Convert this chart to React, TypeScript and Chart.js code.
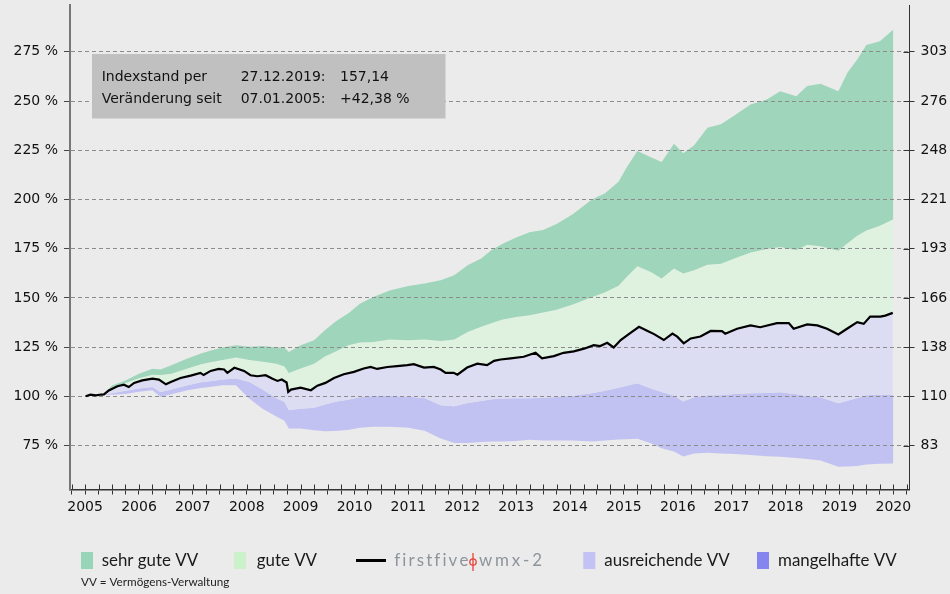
import React, { useEffect, useRef } from 'react';
import { Chart, registerables } from 'chart.js';

Chart.register(...registerables);

// ---- data ----
const lineYears = [2005.01, 2005.1, 2005.2, 2005.3, 2005.35, 2005.44, 2005.6, 2005.72, 2005.81, 2005.91, 2006.06, 2006.25, 2006.37, 2006.5, 2006.59, 2006.77, 2006.96, 2007.14, 2007.2, 2007.33, 2007.48, 2007.58, 2007.64, 2007.77, 2007.95, 2008.07, 2008.2, 2008.35, 2008.47, 2008.57, 2008.65, 2008.74, 2008.77, 2008.82, 2009.0, 2009.19, 2009.31, 2009.46, 2009.62, 2009.8, 2009.99, 2010.17, 2010.3, 2010.42, 2010.61, 2010.79, 2010.98, 2011.1, 2011.29, 2011.47, 2011.6, 2011.69, 2011.84, 2011.91, 2012.09, 2012.28, 2012.46, 2012.59, 2012.71, 2012.9, 2013.14, 2013.36, 2013.48, 2013.7, 2013.88, 2014.07, 2014.26, 2014.44, 2014.56, 2014.69, 2014.81, 2014.94, 2015.09, 2015.28, 2015.43, 2015.56, 2015.74, 2015.9, 2015.99, 2016.11, 2016.24, 2016.42, 2016.61, 2016.82, 2016.88, 2017.1, 2017.35, 2017.53, 2017.84, 2018.06, 2018.15, 2018.4, 2018.59, 2018.77, 2018.98, 2019.14, 2019.33, 2019.45, 2019.57, 2019.76, 2019.85, 2019.99];
const lineValues = [100, 100.8, 100.5, 100.9, 101, 103, 105.1, 105.9, 104.7, 106.8, 108.1, 109, 108.5, 106.1, 107.3, 109.3, 110.5, 111.9, 110.8, 112.9, 113.9, 113.6, 111.9, 114.5, 112.9, 110.7, 110.2, 110.7, 109, 107.8, 108.5, 107, 102.2, 103.4, 104.4, 103.1, 105.4, 106.8, 109.3, 111.2, 112.4, 114.1, 114.9, 113.9, 114.9, 115.3, 115.8, 116.3, 114.6, 114.9, 113.6, 111.9, 111.9, 111, 114.6, 116.6, 115.8, 118, 118.7, 119.3, 120.1, 122.1, 119.3, 120.4, 122.1, 122.8, 124.2, 126, 125.5, 127.2, 124.8, 128.6, 131.6, 135.3, 133.3, 131.6, 128.6, 131.9, 130.3, 126.9, 129.4, 130.4, 133.2, 133.1, 131.8, 134.3, 136, 135.1, 137.2, 137.2, 134.3, 136.5, 136, 134.3, 131.4, 134.3, 137.7, 136.8, 140.5, 140.5, 141, 142.4];

const bandYears = [2005.35, 2005.5, 2005.75, 2006.0, 2006.25, 2006.4, 2006.6, 2006.9, 2007.15, 2007.35, 2007.55, 2007.8, 2008.05, 2008.3, 2008.55, 2008.7, 2008.78, 2009.0, 2009.25, 2009.45, 2009.65, 2009.9, 2010.1, 2010.35, 2010.65, 2011.0, 2011.3, 2011.6, 2011.85, 2012.1, 2012.35, 2012.55, 2012.75, 2013.0, 2013.25, 2013.5, 2013.75, 2014.05, 2014.4, 2014.65, 2014.9, 2015.05, 2015.25, 2015.5, 2015.7, 2015.93, 2016.1, 2016.3, 2016.55, 2016.8, 2017.05, 2017.35, 2017.65, 2017.9, 2018.2, 2018.4, 2018.65, 2018.98, 2019.15, 2019.33, 2019.5, 2019.75, 2020.0];
const bandMax = [101.5, 105.5, 108, 111.5, 114, 113.6, 115.8, 119.2, 121.7, 123.4, 124.8, 125.9, 125.2, 125.6, 124.8, 124.8, 122.5, 125.9, 128.5, 133.6, 138, 142.5, 147, 150.5, 153.8, 156, 157.3, 159, 161.5, 166.6, 170, 174.5, 177.5, 180.7, 183.3, 184.5, 187.6, 192.5, 199.8, 203.2, 209, 216.2, 224.6, 221.4, 219, 228.3, 223.5, 227.4, 236.5, 238.2, 242.6, 248.3, 250.8, 255, 252.5, 257.6, 258.8, 255, 264.5, 271.1, 278.5, 280.4, 286.3];
const bandQ75 = [101.3, 104.3, 106.8, 109.2, 111, 110.8, 111.5, 114.1, 116.3, 117.4, 118.4, 119.7, 118.4, 117.5, 116.6, 115.2, 111.9, 114.1, 116.6, 120.2, 122.8, 126, 127.3, 127.6, 128.8, 128.5, 128.8, 128.1, 128.8, 132.7, 135.3, 137.2, 139, 140.3, 141.2, 142.6, 144, 146.6, 150.3, 152.8, 156.2, 160.6, 166.1, 163.1, 159.9, 164.9, 162.4, 164, 166.8, 167.3, 170, 173, 174.8, 175.8, 174.3, 177, 176.2, 174, 177.8, 181.6, 184.2, 186.6, 190];
const bandQ25 = [100.8, 101.5, 102.8, 104, 104.7, 102.2, 103.4, 105.6, 107.2, 107.8, 108.5, 109, 107.3, 103.3, 99, 97.1, 93, 93.7, 94.2, 95.8, 97.2, 98.4, 99.5, 100.1, 100.1, 99.8, 99.2, 95.4, 94.9, 96.6, 97.6, 98.5, 98.9, 99, 99, 99.3, 99.7, 100.3, 101.5, 102.8, 104.3, 105.3, 106.6, 104, 102.2, 100.3, 97.4, 99.5, 100.5, 100.5, 101.2, 101.5, 101.7, 102, 101, 100.2, 99.5, 96.5, 97.8, 99.2, 100.5, 100.8, 100.8];
const bandMin = [100.6, 100.8, 101.2, 102.3, 103.1, 99.7, 101, 103.1, 104.2, 104.8, 105.6, 105.6, 98.8, 93.5, 89.8, 87.6, 83.6, 83.6, 82.7, 82.2, 82.4, 83, 84, 84.5, 84.5, 84, 82.5, 78.5, 76.3, 76.3, 76.8, 77, 77, 77.3, 77.9, 77.6, 77.5, 77.5, 77, 77.5, 78, 78.2, 78.4, 76.1, 73.6, 71.9, 69.4, 71, 71.3, 70.9, 70.7, 70.2, 69.5, 69.3, 68.6, 68.1, 67.4, 64.2, 64.3, 64.6, 65.4, 65.7, 65.9];

const rightTickLabels = ['83', '110', '138', '166', '193', '221', '248', '276', '303'];
const legendLabels = ['sehr gute VV', 'gute VV', 'firstfive wmx-2', 'ausreichende VV', 'mangelhafte VV'];
const infoLabels = ['Indexstand per', 'Veränderung seit'];
const infoDates = ['27.12.2019:', '07.01.2005:'];
const infoValues = ['157,14', '+42,38 %'];
const footnote = 'VV = Vermögens-Verwaltung';

// ---- styling ----
const BG = '#ebebeb';
const C_SEHR = '#9fd5bb';
const C_GUT = '#dff2e0';
const C_AUS = '#dcdcf2';
const C_MANG = '#c2c2f2';
const LEG_COLORS = ['#98d4b7', '#ccf2cc', '#000000', '#c2c2f5', '#8585f0'];
const Y_MIN = 52.65;
const Y_MAX = 298.8;
const TICK_FONT = { family: 'DejaVu Sans', size: 14 };

const pts = (xs: number[], ys: number[]) => xs.map((x, i) => ({ x, y: ys[i] }));

function fitSize(ctx: CanvasRenderingContext2D, text: string, family: string, target: number) {
  ctx.font = `100px ${family}`;
  const w = ctx.measureText(text).width;
  return Math.round(((100 * target) / w) * 10) / 10;
}

// draws text char by char so that it spans the given width
function spacedText(ctx: CanvasRenderingContext2D, text: string, x: number, y: number, size: number, family: string, target: number) {
  ctx.font = `${size}px ${family}`;
  const widths = Array.from(text).map((c) => ctx.measureText(c).width);
  const total = widths.reduce((a, b) => a + b, 0);
  const sp = Math.max(0, (target - total) / Math.max(1, text.length - 1));
  let cx = x;
  Array.from(text).forEach((c, i) => {
    ctx.fillText(c, cx, y);
    cx += widths[i] + sp;
  });
}

const decorPlugin = {
  id: 'decor',
  beforeDraw(chart: any) {
    const { ctx } = chart;
    ctx.save();
    ctx.fillStyle = BG;
    ctx.fillRect(0, 0, chart.width, chart.height);
    ctx.restore();
  },
  beforeDatasetsDraw(chart: any) {
    // gridlines on top of filled bands, below the index line
    chart.scales.y.drawGrid(chart.chartArea);
  },
  afterDraw(chart: any) {
    const { ctx, chartArea } = chart;
    ctx.save();
    // inner halves of tick marks
    ctx.strokeStyle = '#333';
    ctx.lineWidth = 1;
    const xs = chart.scales.x;
    xs.ticks.forEach((t: any) => {
      const px = Math.round(xs.getPixelForValue(t.value)) + 0.5;
      ctx.beginPath();
      ctx.moveTo(px, chartArea.bottom);
      ctx.lineTo(px, chartArea.bottom - 5);
      ctx.stroke();
    });
    const ys = chart.scales.y2;
    ys.ticks.forEach((t: any) => {
      const py = Math.round(ys.getPixelForValue(t.value)) + 0.5;
      ctx.beginPath();
      ctx.moveTo(chartArea.right - 6, py);
      ctx.lineTo(chartArea.right, py);
      ctx.stroke();
    });

    // info box
    ctx.fillStyle = '#c0c0c0';
    ctx.fillRect(92, 54, 353.5, 64.5);
    ctx.fillStyle = '#111';
    ctx.font = '14px "DejaVu Sans"';
    ctx.textBaseline = 'middle';
    ctx.textAlign = 'left';
    const rowsY = [77.5, 99.5];
    infoLabels.forEach((l, i) => {
      ctx.fillText(l, 101.7, rowsY[i]);
      ctx.fillText(infoDates[i], 240.7, rowsY[i]);
      ctx.fillText(infoValues[i], 340, rowsY[i]);
    });

    // legend
    const fam = 'Lato';
    const size = fitSize(ctx, legendLabels[0], fam, 96.7);
    const ly = 561;
    const swX = [81, 234, 0, 583.3, 757];
    const txX = [101.7, 256.7, 0, 604.3, 778];
    [0, 1, 3, 4].forEach((i) => {
      ctx.fillStyle = LEG_COLORS[i];
      ctx.fillRect(swX[i], 552, 12, 17);
      ctx.fillStyle = '#1a1a1a';
      ctx.font = `${size}px ${fam}`;
      ctx.fillText(legendLabels[i], txX[i], ly);
    });
    // index line entry
    ctx.strokeStyle = '#000';
    ctx.lineWidth = 3;
    ctx.beginPath();
    ctx.moveTo(356, 560.5);
    ctx.lineTo(386, 560.5);
    ctx.stroke();
    const [w1, w2] = legendLabels[2].split(' ');
    ctx.fillStyle = '#8e949b';
    spacedText(ctx, w1, 394.3, ly, size, fam, 74);
    spacedText(ctx, w2, 479, ly, size, fam, 63);
    // logo mark
    ctx.strokeStyle = '#e8413a';
    ctx.lineWidth = 1.3;
    ctx.beginPath();
    ctx.arc(473, 562, 3.2, 0, Math.PI * 2);
    ctx.stroke();
    ctx.beginPath();
    ctx.moveTo(473, 553);
    ctx.lineTo(473, 571);
    ctx.stroke();

    // footnote
    ctx.fillStyle = '#222';
    const fs = fitSize(ctx, footnote, fam, 148);
    ctx.font = `${fs}px ${fam}`;
    ctx.fillText(footnote, 81, 582.5);
    ctx.restore();
  },
};

export default function App() {
  const ref = useRef<HTMLCanvasElement | null>(null);

  useEffect(() => {
    const canvas = ref.current;
    if (!canvas) return;
    const common = { pointRadius: 0, pointHoverRadius: 0, tension: 0, borderWidth: 0 };
    const chart = new Chart(canvas, {
      type: 'line',
      data: {
        datasets: [
          { ...common, label: legendLabels[0], data: pts(bandYears, bandMax), backgroundColor: C_SEHR, borderColor: C_SEHR, fill: '+1' },
          { ...common, label: legendLabels[1], data: pts(bandYears, bandQ75), backgroundColor: C_GUT, borderColor: C_GUT, fill: '+1' },
          {
            ...common,
            label: legendLabels[2],
            data: pts(lineYears, lineValues),
            borderColor: '#000',
            borderWidth: 2.2,
            backgroundColor: C_AUS,
            fill: '+1',
            order: -1,
          },
          { ...common, label: legendLabels[3], data: pts(bandYears, bandQ25), backgroundColor: C_MANG, borderColor: C_MANG, fill: '+1' },
          { ...common, label: legendLabels[4], data: pts(bandYears, bandMin), backgroundColor: C_MANG, borderColor: C_MANG, fill: false },
        ],
      },
      options: {
        responsive: false,
        animation: false,
        events: [],
        layout: { padding: { top: 5, left: 0, right: 0, bottom: 0 } },
        plugins: {
          legend: { display: false },
          tooltip: { enabled: false },
          filler: { drawTime: 'beforeDatasetsDraw' },
        },
        scales: {
          x: {
            type: 'linear',
            min: 2004.72,
            max: 2020.3,
            ticks: {
              stepSize: 0.25,
              includeBounds: false,
              autoSkip: false,
              maxRotation: 0,
              minRotation: 0,
              padding: 4,
              color: '#111',
              font: TICK_FONT,
              callback: (v: any) => (Math.abs(v - Math.round(v)) < 1e-6 ? String(Math.round(v)) : ''),
            },
            grid: { display: true, drawOnChartArea: false, drawTicks: true, tickLength: 5, tickColor: '#333', tickWidth: 1 },
            border: { display: true, color: '#333', width: 1.5 },
            afterFit: (s: any) => {
              s.height = 104.5;
              s.paddingLeft = 0;
              s.paddingRight = 0;
            },
          },
          y: {
            type: 'linear',
            position: 'left',
            min: Y_MIN,
            max: Y_MAX,
            ticks: {
              stepSize: 25,
              includeBounds: false,
              padding: 6,
              color: '#111',
              font: TICK_FONT,
              callback: (v: any) => `${v} %`,
            },
            grid: { color: '#8c8c8c', lineWidth: 1, drawTicks: true, tickLength: 6, tickColor: '#444', tickWidth: 1, tickBorderDash: [] },
            border: { display: true, color: '#777', width: 2, dash: [4, 3] },
            afterFit: (s: any) => {
              s.width = 70;
              s.paddingTop = 0;
              s.paddingBottom = 0;
            },
          },
          y2: {
            type: 'linear',
            position: 'right',
            min: Y_MIN,
            max: Y_MAX,
            ticks: {
              stepSize: 25,
              includeBounds: false,
              padding: 6,
              color: '#111',
              font: TICK_FONT,
              callback: (v: any) => rightTickLabels[Math.round((v - 75) / 25)] ?? '',
            },
            grid: { display: true, drawOnChartArea: false, drawTicks: true, tickLength: 5, tickColor: '#333', tickWidth: 1 },
            border: { display: true, color: '#333', width: 1 },
            afterFit: (s: any) => {
              s.width = 40.5;
              s.paddingTop = 0;
              s.paddingBottom = 0;
            },
          },
        },
      },
      plugins: [decorPlugin],
    } as any);
    return () => chart.destroy();
  }, []);

  return (
    <div style={{ position: 'fixed', left: 0, top: 0, width: 950, height: 594, background: BG }}>
      <canvas ref={ref} width={950} height={594} style={{ display: 'block', width: 950, height: 594 }} />
    </div>
  );
}
